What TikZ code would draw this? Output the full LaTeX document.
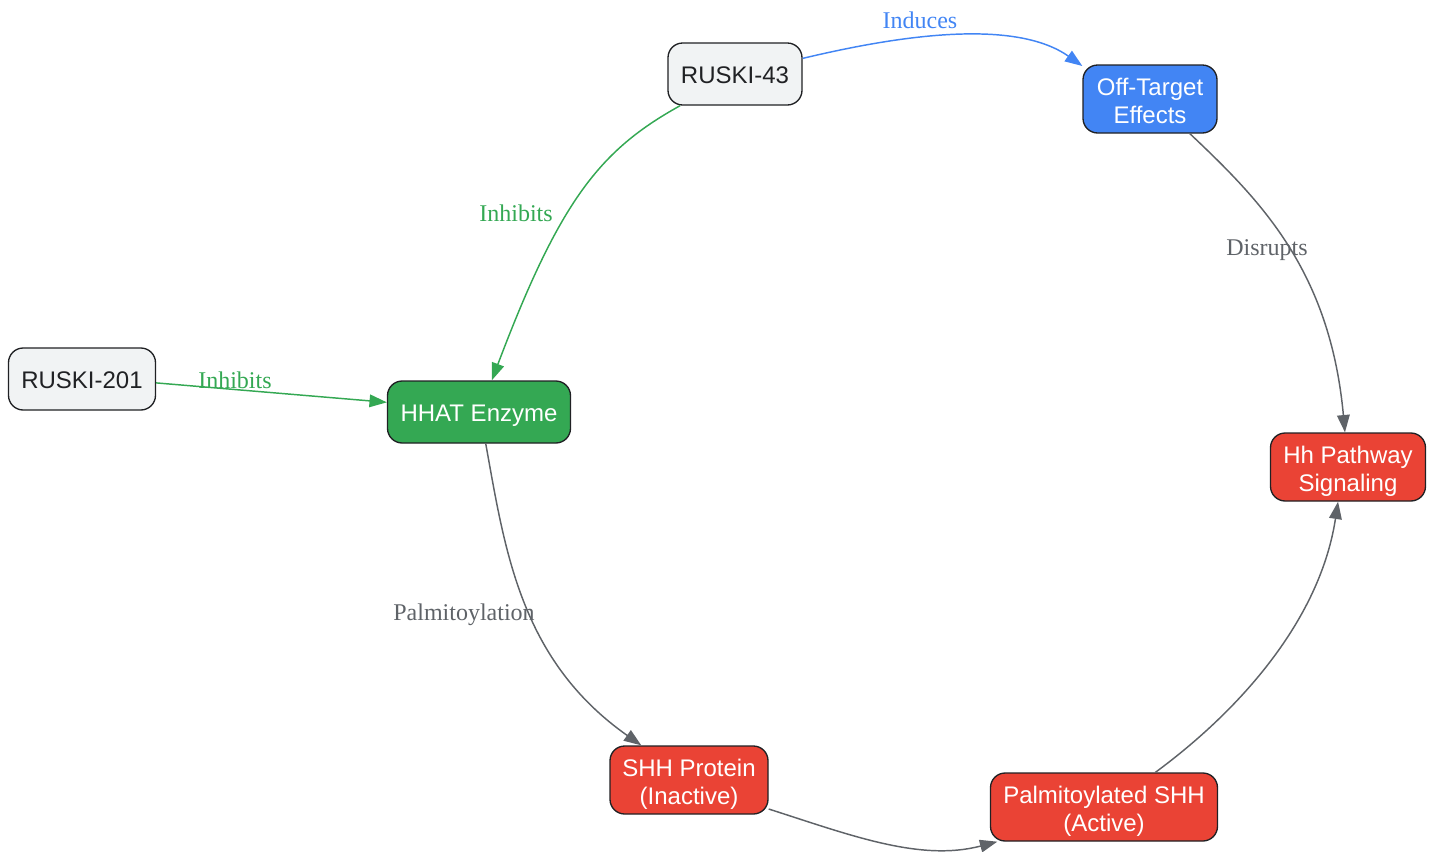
\documentclass[tikz,border=0pt]{standalone}
\usepackage{fontspec}
\setmainfont{Liberation Serif}
\newfontfamily\nodefont{Liberation Sans}
\usetikzlibrary{arrows.meta}
\definecolor{gfill}{HTML}{F1F3F4}
\definecolor{bluec}{HTML}{4285F4}
\definecolor{greenc}{HTML}{34A853}
\definecolor{redc}{HTML}{EA4335}
\definecolor{edgegray}{HTML}{5F6368}
\definecolor{darktext}{HTML}{202124}
\begin{document}
\begin{tikzpicture}[x=0.75pt,y=-0.75pt,
  box/.style={draw=darktext, line width=1pt, rounded corners=11pt, align=center,
    font=\nodefont\fontsize{18}{21}\selectfont, inner sep=0pt},
  one/.style={text height=15.5pt, text depth=2pt, minimum height=46.5pt},
  two/.style={text height=38pt, text depth=1pt, minimum height=51pt},
  graybox/.style={box, fill=gfill, text=darktext},
  bluebox/.style={box, fill=bluec, text=white},
  greenbox/.style={box, fill=greenc, text=white},
  redbox/.style={box, fill=redc, text=white},
  conn/.style={line width=1.1pt, -{Triangle[length=13pt,width=9.5pt]}},
  lbl/.style={font=\fontsize{18}{20}\selectfont, inner sep=1pt}
]
\path[use as bounding box] (0,0) rectangle (1436,851);

\node[graybox, one, minimum width=100.5pt] (r43) at (735,74) {RUSKI-43};
\node[bluebox, two, minimum width=100.5pt] (ot) at (1150,99) {Off-Target\\Effects};
\node[graybox, one, minimum width=110.25pt] (r201) at (82,379) {RUSKI-201};
\node[greenbox, one, minimum width=137.25pt] (hh) at (479,412) {HHAT Enzyme};
\node[redbox, two, minimum width=116.25pt] (hp) at (1348,467) {Hh Pathway\\Signaling};
\node[redbox, two, minimum width=118.5pt] (shh) at (689,780) {SHH Protein\\(Inactive)};
\node[redbox, two, minimum width=170.25pt] (pal) at (1104,807) {Palmitoylated SHH\\(Active)};

% edges
\draw[conn, bluec] (r43.13) .. controls (880,40) and (1010,15) .. (ot.154);
\draw[conn, greenc] (r43.210) .. controls (600,150) and (560,200) .. (hh.68);
\draw[conn, greenc] (r201.-3) -- (hh.174);
\draw[conn, edgegray] (hh.-78) .. controls (505,550) and (520,660) .. (shh.144);
\draw[conn, edgegray] (shh.-20) .. controls (850,835) and (920,862) .. (pal.198);
\draw[conn, edgegray] (pal.34) .. controls (1240,710) and (1320,620) .. (hp.254);
\draw[conn, edgegray] (ot.-41) .. controls (1260,200) and (1330,270) .. (hp.95);

% labels
\node[lbl, text=bluec] (l1) at (920,20) {Induces};
\node[lbl, text=greenc] (l2) at (516,213) {Inhibits};
\node[lbl, text=greenc] (l3) at (235,380) {Inhibits};
\node[lbl, text=edgegray] (l4) at (1267,250) {Disrupts};
\node[lbl, text=edgegray] (l5) at (464,615) {Palmitoylation};
\end{tikzpicture}
\end{document}
